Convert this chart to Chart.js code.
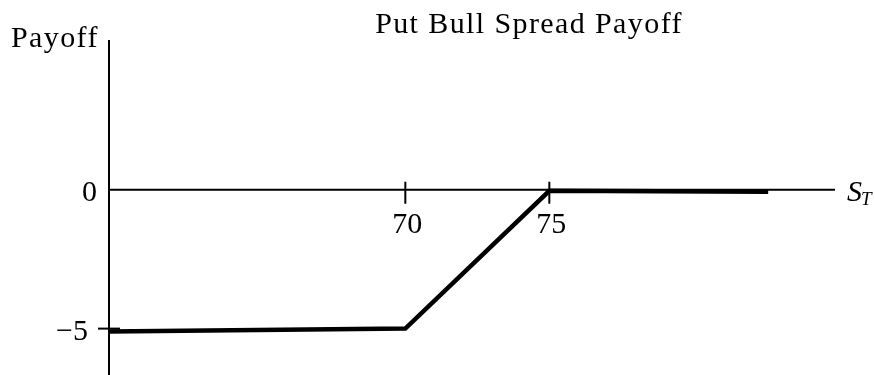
<!DOCTYPE html>
<html>
<head>
<meta charset="utf-8">
<script src="https://cdn.jsdelivr.net/npm/chart.js@4/dist/chart.umd.min.js"></script>
<style>
  html, body { margin: 0; padding: 0; background: #fff; }
  #wrap { width: 875px; height: 375px; }
</style>
</head>
<body>
<div id="wrap"><canvas id="myChart" width="875" height="375"></canvas></div>
<script>
// payoff data
const spotPrices = [59.71, 70, 75, 82.6];
const payoffs = [-5.1, -5, -0.04, -0.07];

const xTicks = [70, 75];
const xTickLabels = ['70', '75'];
const yTicks = [0, -5];
const yTickLabels = ['0', '\u22125'];

const titleText = 'Put Bull Spread Payoff';
const yAxisTitle = 'Payoff';

const xMin = 59.71, xMax = 84.92;
const yMin = -6.67, yMax = 5.39;

const serif = '"Liberation Serif", "Times New Roman", serif';

const axesPlugin = {
  id: 'handAxes',
  beforeDatasetsDraw(chart) {
    const ctx = chart.ctx;
    const xs = chart.scales.x, ys = chart.scales.y;
    const area = chart.chartArea;
    const y0 = ys.getPixelForValue(0);
    const xl = area.left;

    ctx.save();
    ctx.strokeStyle = '#000';
    ctx.lineWidth = 2;
    ctx.lineCap = 'butt';

    // x axis line
    ctx.beginPath();
    ctx.moveTo(xl, y0);
    ctx.lineTo(area.right, y0);
    ctx.stroke();

    // y axis line
    ctx.beginPath();
    ctx.moveTo(xl, area.top);
    ctx.lineTo(xl, area.bottom);
    ctx.stroke();

    // x ticks
    xTicks.forEach((v) => {
      const px = xs.getPixelForValue(v);
      ctx.beginPath();
      ctx.moveTo(px, y0 - 8);
      ctx.lineTo(px, y0 + 14);
      ctx.stroke();
    });

    // y ticks (skip the one sitting on the x axis)
    yTicks.forEach((v) => {
      if (v === 0) return;
      const py = ys.getPixelForValue(v);
      ctx.beginPath();
      ctx.moveTo(xl - 11, py);
      ctx.lineTo(xl + 11, py);
      ctx.stroke();
    });

    ctx.fillStyle = '#000';
    ctx.font = '30px ' + serif;

    // x tick labels
    ctx.textAlign = 'center';
    ctx.textBaseline = 'alphabetic';
    xTicks.forEach((v, i) => {
      ctx.fillText(xTickLabels[i], xs.getPixelForValue(v) + 2, y0 + 43);
    });

    // y tick labels
    ctx.textAlign = 'right';
    yTicks.forEach((v, i) => {
      const py = ys.getPixelForValue(v);
      const gap = v === 0 ? 12 : 21;
      ctx.fillText(yTickLabels[i], xl - gap, py + 11);
    });

    // wider set for the word labels, like the original
    ctx.letterSpacing = '1.4px';

    // y axis title
    ctx.textAlign = 'left';
    ctx.fillText(yAxisTitle, 11, 47);

    // chart title
    ctx.textAlign = 'center';
    ctx.fillText(titleText, 529, 33);

    ctx.letterSpacing = '0px';

    // S_T label
    ctx.textAlign = 'left';
    ctx.font = 'italic 30px ' + serif;
    const sx = area.right + 12;
    ctx.fillText('S', sx, y0 + 11);
    const sw = ctx.measureText('S').width;
    ctx.font = 'italic 19px ' + serif;
    ctx.fillText('T', sx + sw - 1, y0 + 15);

    ctx.restore();
  }
};

const data = {
  datasets: [{
    label: 'Payoff',
    data: spotPrices.map((s, i) => ({ x: s, y: payoffs[i] })),
    borderColor: '#000',
    backgroundColor: '#000',
    borderWidth: 4.5,
    pointRadius: 0,
    tension: 0,
    borderJoinStyle: 'miter',
    borderCapStyle: 'butt',
    clip: false
  }]
};

const config = {
  type: 'line',
  data: data,
  options: {
    responsive: false,
    animation: false,
    devicePixelRatio: 1,
    layout: { padding: { left: 109, right: 40, top: 40, bottom: 0 } },
    plugins: {
      legend: { display: false },
      title: { display: false },
      tooltip: { enabled: false }
    },
    scales: {
      x: { type: 'linear', min: xMin, max: xMax, display: false },
      y: { type: 'linear', min: yMin, max: yMax, display: false }
    }
  },
  plugins: [axesPlugin]
};

const myChart = new Chart(document.getElementById('myChart'), config);
</script>
</body>
</html>
